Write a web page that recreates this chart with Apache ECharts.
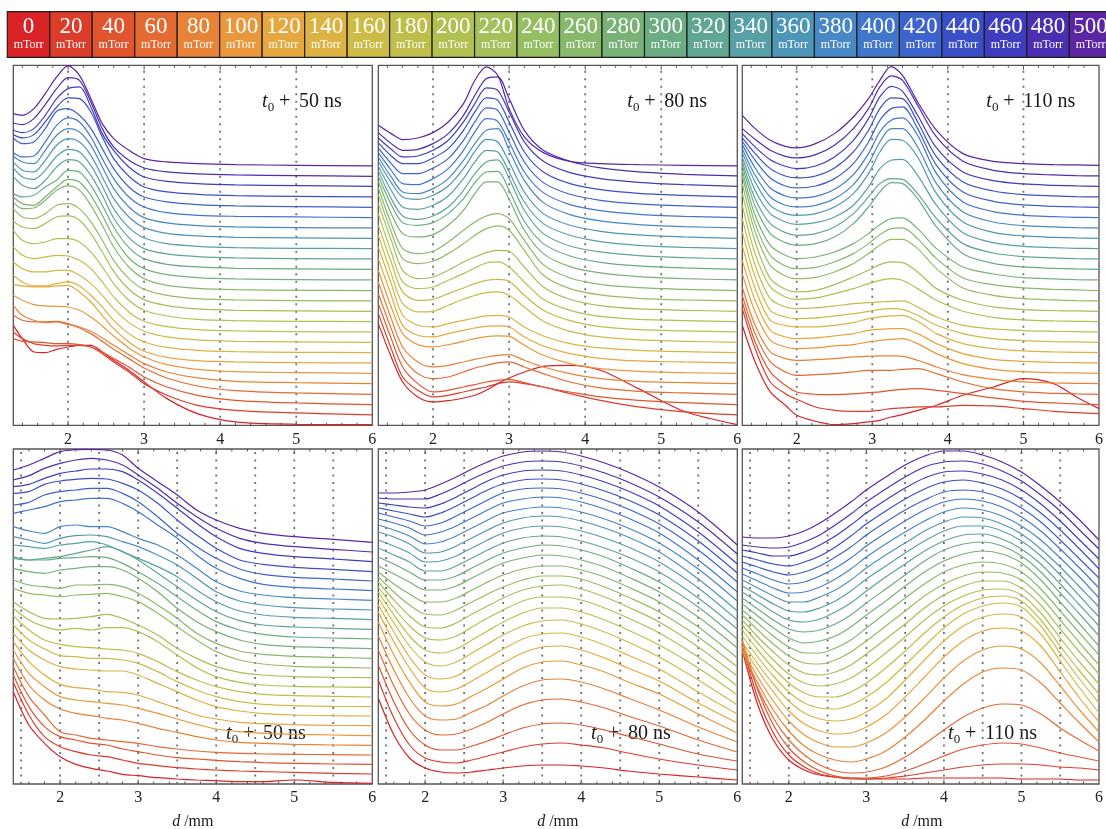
<!DOCTYPE html>
<html>
<head>
<meta charset="utf-8">
<script src="https://cdn.jsdelivr.net/npm/echarts@6/dist/echarts.min.js"></script>
<style>
  html, body { margin: 0; padding: 0; background: #ffffff; }
  #chart { width: 1106px; height: 829px; }
</style>
</head>
<body>
<div id="chart"></div>
<script>
// Background gas pressure of each trace (mTorr) and its colour
const pressures = [0, 20, 40, 60, 80, 100, 120, 140, 160, 180, 200, 220, 240,
                   260, 280, 300, 320, 340, 360, 380, 400, 420, 440, 460, 480, 500];
const pressureColors = [
  '#d92327', '#dc3d2b', '#e0552e', '#e46a31', '#e88236', '#e9973a', '#e6a73e',
  '#dcb342', '#cdbb46', '#bfbe4b', '#b2c052', '#a4c05a', '#95bd62', '#87b86b',
  '#78b276', '#6bac83', '#60a692', '#57a0a5', '#4e96b8', '#4788c5', '#4176cb',
  '#3d63cc', '#3b50c8', '#3e3dc0', '#4a2fb2', '#5c25a3'
];

// Distance from target d (mm) sampled for each panel
const dTop50  = [1.28, 1.4, 1.55, 1.7, 1.85, 2.0, 2.15, 2.3, 2.45, 2.6, 2.8, 3.0, 3.3, 3.7, 4.2, 5.0, 6.0];
const dTop80  = [1.28, 1.45, 1.6, 1.8, 2.0, 2.2, 2.4, 2.55, 2.7, 2.85, 3.0, 3.2, 3.45, 3.8, 4.2, 4.7, 5.3, 6.0];
const dTop110 = [1.28, 1.45, 1.65, 1.85, 2.0, 2.25, 2.5, 2.75, 2.95, 3.1, 3.25, 3.4, 3.6, 3.85, 4.2, 4.6, 5.0, 5.4, 5.7, 6.0];
const dBot50  = [1.4, 1.6, 1.8, 2.0, 2.2, 2.4, 2.6, 2.8, 3.0, 3.25, 3.5, 3.75, 4.0, 4.3, 4.6, 5.0, 5.5, 6.0];
const dBot80  = [1.4, 1.6, 1.8, 2.0, 2.2, 2.4, 2.6, 2.8, 3.0, 3.25, 3.5, 3.75, 4.0, 4.3, 4.6, 5.0, 5.5, 6.0];
const dBot110 = [1.4, 1.6, 1.8, 2.0, 2.2, 2.4, 2.6, 2.8, 3.0, 3.25, 3.5, 3.75, 4.0, 4.25, 4.5, 4.75, 5.0, 5.25, 5.5, 5.75, 6.0];

// Stacked emission profiles (a.u., vertical offset included), one row per pressure, 0 -> 500 mTorr
const topProfiles50 = [
  [300,260,220,218,228,235,240,240,220,195,165,130,80,35,10,3,2],
  [280,260,245,240,238,240,240,235,215,190,160,125,90,60,45,37,31],
  [260,252,250,248,245,245,242,235,220,200,175,145,115,90,75,67,62],
  [330,315,310,310,312,305,292,275,252,228,200,172,142,118,104,97,93],
  [360,330,315,308,310,302,295,282,262,240,212,185,160,142,132,128,125],
  [390,375,362,358,357,355,345,325,298,268,232,205,182,168,161,158,156],
  [422,418,415,415,418,420,400,370,330,290,250,222,204,194,190,188,187],
  [450,430,418,418,425,430,418,390,355,315,275,250,234,225,221,219,218],
  [490,470,460,460,465,465,450,425,390,350,308,282,265,256,252,250,249],
  [535,510,500,505,510,508,495,470,430,385,340,312,296,287,283,281,280],
  [585,555,545,550,560,560,550,520,475,425,375,345,328,318,314,312,311],
  [612,595,590,605,625,628,615,575,520,462,408,377,359,349,345,343,342],
  [650,625,620,635,660,665,650,610,555,495,440,408,390,380,376,374,373],
  [670,650,652,675,705,718,705,660,600,535,475,440,420,411,407,405,404],
  [685,665,660,685,715,738,730,690,630,565,502,470,452,443,439,437,436],
  [695,685,690,715,735,765,760,720,660,595,533,500,483,475,471,469,468],
  [747,720,710,735,775,797,790,750,690,622,563,530,514,506,502,500,499],
  [772,745,738,765,807,828,820,780,718,650,593,562,545,537,533,531,530],
  [790,765,760,795,840,860,850,810,745,680,625,593,576,568,564,562,561],
  [807,790,785,825,870,890,880,840,775,710,655,623,607,599,595,593,592],
  [818,805,808,850,900,922,910,865,800,740,685,655,638,630,627,625,623],
  [862,845,850,890,942,950,930,890,830,770,715,685,670,662,658,656,654],
  [872,862,872,910,955,982,980,940,865,800,747,715,700,693,689,687,685],
  [885,878,890,930,980,1010,1015,955,875,825,775,745,732,725,721,719,717],
  [907,902,920,962,1010,1043,1035,970,890,835,795,772,760,754,751,749,747],
  [935,930,950,995,1045,1078,1050,980,905,860,825,800,790,785,782,780,778]
];

const topProfiles80 = [
  [305,205,130,85,70,74,82,90,105,125,142,160,177,180,165,110,42,2],
  [335,230,145,105,85,90,100,108,115,125,130,125,115,95,75,55,40,31],
  [365,260,175,125,100,105,115,122,130,135,138,128,115,100,85,75,68,62],
  [395,290,205,155,140,145,160,172,180,187,190,175,155,130,112,102,97,93],
  [430,320,235,190,175,180,190,198,205,210,212,195,175,155,140,132,128,125],
  [465,355,275,242,235,242,252,260,266,268,267,240,210,185,170,162,158,156],
  [500,390,300,270,265,275,285,292,297,298,295,265,238,215,201,193,190,187],
  [535,425,330,300,295,305,315,322,328,330,325,295,268,245,232,225,221,218],
  [570,455,365,340,342,360,378,390,398,400,390,355,312,282,265,256,252,249],
  [600,490,400,375,378,395,412,425,435,438,432,390,345,314,296,287,283,280],
  [635,520,430,410,415,435,455,472,487,490,475,430,378,345,327,318,314,311],
  [665,555,465,440,445,465,490,505,518,525,522,475,415,378,359,349,345,342],
  [692,580,500,485,492,515,545,570,590,598,585,525,450,410,391,381,376,373],
  [712,605,530,515,522,550,585,610,628,635,620,555,482,442,423,413,408,404],
  [732,635,575,565,572,600,645,695,730,730,678,585,515,476,457,446,440,436],
  [748,662,608,600,608,635,680,728,760,762,705,612,545,508,489,478,472,468],
  [764,680,628,618,628,655,705,755,790,796,740,645,575,538,520,509,503,499],
  [778,705,655,648,660,688,740,790,825,820,760,670,605,570,551,540,534,530],
  [792,728,685,678,690,718,770,822,858,850,790,700,635,600,582,571,565,561],
  [805,745,700,695,710,740,795,845,885,890,825,735,668,632,613,602,596,592],
  [818,765,725,722,740,770,825,880,920,912,850,760,698,662,644,633,627,623],
  [832,785,755,755,772,800,855,910,952,945,880,790,728,693,675,664,658,654],
  [847,808,785,785,802,830,885,940,982,975,910,820,760,725,707,696,690,685],
  [862,828,805,808,825,855,910,965,1012,1005,940,850,792,758,740,729,722,717],
  [878,845,825,828,845,875,930,990,1040,1045,980,885,825,792,772,760,753,748],
  [900,875,857,862,878,910,965,1035,1075,1050,950,865,818,792,785,782,780,778]
];

const topProfiles110 = [
  [300,190,100,60,30,12,2,5,10,15,25,32,45,60,90,115,140,125,85,50],
  [350,230,130,95,78,55,45,42,42,45,50,52,55,55,60,58,50,42,38,35],
  [370,250,160,120,100,93,92,94,98,100,105,108,110,105,95,82,72,67,64,62],
  [390,275,190,160,150,152,155,160,165,165,165,168,170,155,130,110,100,96,94,93],
  [415,300,220,200,195,197,200,205,207,208,208,207,195,175,152,138,130,127,126,125],
  [455,340,255,235,230,232,238,242,250,255,258,260,245,215,185,168,161,158,157,156],
  [495,375,285,265,260,262,268,275,285,288,290,290,275,245,215,198,192,189,188,187],
  [540,410,315,300,295,295,300,308,320,325,328,330,312,275,245,230,223,220,219,218],
  [580,445,345,325,320,322,328,335,342,348,350,348,330,300,275,260,254,251,250,249],
  [620,480,380,355,350,352,358,365,368,370,372,373,355,325,300,289,284,282,281,280],
  [660,515,415,385,378,382,395,410,425,435,440,435,410,375,342,324,316,313,312,311],
  [695,550,440,408,400,405,422,445,465,482,490,488,460,410,375,355,347,344,343,342],
  [725,580,480,448,440,444,460,485,515,540,558,558,530,470,412,390,380,376,374,373],
  [750,605,510,478,470,474,490,515,545,572,590,592,560,500,442,422,412,408,406,404],
  [765,630,540,510,500,505,520,545,575,602,620,622,590,530,475,454,443,439,437,436],
  [780,658,575,548,540,545,565,605,655,700,728,725,680,595,515,486,475,471,469,468],
  [792,680,605,578,570,575,595,635,685,725,740,738,695,620,545,517,506,502,500,499],
  [805,705,635,610,603,608,625,660,715,770,795,798,750,660,578,548,537,533,531,530],
  [818,730,660,635,630,635,655,695,755,820,858,855,805,695,610,579,568,564,562,561],
  [830,750,685,660,655,660,680,722,785,850,890,890,835,725,640,610,599,595,593,592],
  [842,772,712,688,682,687,708,752,815,880,915,922,870,755,670,641,630,626,624,623],
  [852,795,742,718,712,718,740,785,850,915,950,955,890,780,700,672,661,657,655,654],
  [862,815,770,748,742,748,772,820,885,950,982,980,910,805,730,703,692,688,686,685],
  [875,835,797,777,770,778,805,855,920,985,1017,1002,930,832,760,734,724,720,718,717],
  [890,858,825,807,802,812,840,890,950,1015,1048,1035,960,865,792,765,755,751,749,748],
  [930,890,855,837,832,845,875,925,980,1035,1076,1050,970,885,815,792,785,782,781,780]
];

const bottomProfiles50 = [
  [277,177,122,82,59,47,39,29,25,19,15,12,10,7,7,12,5,2],
  [305,207,142,112,97,87,82,72,62,55,49,45,42,39,37,35,32,30],
  [327,232,172,142,132,122,117,105,97,87,79,75,71,67,64,62,60,59],
  [352,262,207,157,147,137,132,127,122,112,105,99,95,92,90,89,88,87],
  [377,297,252,225,212,205,197,192,182,167,155,142,132,125,122,119,117,116],
  [402,332,292,262,252,247,242,237,227,212,195,179,165,157,152,149,147,145],
  [427,367,327,299,289,285,277,275,267,247,227,207,195,185,181,178,176,175],
  [452,402,372,352,345,342,339,339,327,302,277,252,232,219,211,207,205,204],
  [477,432,405,385,382,377,377,372,362,337,307,282,262,247,239,235,233,232],
  [505,462,432,419,412,409,405,402,392,367,337,312,292,277,269,265,263,261],
  [527,492,472,462,467,462,469,469,457,427,387,349,322,305,297,293,291,290],
  [547,517,497,495,497,502,509,497,477,447,407,377,352,335,327,322,320,319],
  [587,572,567,562,567,569,572,562,547,512,472,432,397,372,360,353,350,348],
  [612,597,592,587,597,597,599,592,572,537,497,452,422,399,389,383,380,377],
  [647,637,632,642,647,652,652,642,617,577,527,487,457,432,419,412,409,406],
  [677,672,672,677,679,682,679,662,637,602,562,522,487,462,449,441,438,435],
  [682,672,677,682,692,702,712,697,672,632,592,552,517,490,477,471,467,464],
  [717,712,707,717,722,727,717,697,677,652,622,582,547,519,507,500,497,493],
  [742,732,722,737,745,747,742,727,712,687,657,617,577,549,537,529,525,522],
  [772,759,752,772,777,772,772,757,737,717,687,647,607,579,567,559,555,551],
  [812,822,832,847,852,857,857,842,817,777,737,687,647,617,599,590,585,580],
  [837,845,867,877,882,887,887,872,847,802,752,712,677,645,629,620,615,609],
  [872,877,899,909,914,917,915,902,882,842,792,747,707,672,659,650,644,637],
  [892,899,917,932,939,945,945,937,912,872,827,782,742,707,692,682,675,667],
  [912,925,947,962,972,977,972,957,927,887,842,802,767,737,722,712,704,696],
  [942,957,977,997,1003,1004,1002,987,947,907,867,822,792,767,752,742,734,725]
];

const bottomProfiles80 = [
  [86,49,26,16,12,11,12,14,16,18,19,19,18,16,13,10,7,4],
  [104,66,39,26,22,21,24,28,32,37,40,41,39,36,31,25,19,14],
  [119,82,54,39,34,34,38,43,49,56,60,61,59,54,48,40,30,23],
  [134,98,70,54,49,50,55,62,70,79,84,85,82,76,68,58,44,32],
  [148,114,86,68,64,65,72,79,88,98,104,105,102,95,86,74,57,42],
  [162,129,102,82,78,80,88,96,105,116,122,123,119,112,102,90,70,51],
  [172,142,116,96,92,95,103,112,121,131,137,138,134,126,116,103,81,61],
  [179,152,127,109,105,108,117,126,135,145,150,151,147,139,129,115,92,70],
  [186,161,138,122,118,122,131,140,149,158,163,164,160,152,142,127,104,79],
  [192,169,148,134,131,135,144,153,162,171,176,176,172,164,154,139,116,89],
  [197,176,158,146,144,148,157,166,174,183,187,187,184,176,166,151,127,98],
  [202,184,168,157,156,161,170,178,186,194,198,199,195,187,177,162,137,108],
  [207,192,179,170,169,174,182,190,197,204,208,208,205,197,187,172,147,117],
  [212,200,190,182,182,186,194,202,209,215,218,218,214,207,197,182,157,126],
  [218,210,202,194,194,198,206,214,221,226,229,228,224,217,207,192,167,136],
  [227,220,212,204,204,208,216,224,231,236,239,238,234,227,217,202,177,145],
  [236,229,222,213,213,218,226,234,241,246,248,247,243,236,227,212,186,155],
  [244,238,231,222,223,228,236,244,251,256,258,257,253,246,237,222,196,164],
  [252,247,240,231,232,238,246,254,261,266,268,267,263,256,247,232,205,173],
  [259,254,248,240,242,248,256,264,271,275,277,276,272,265,256,241,215,183],
  [265,261,256,249,252,258,266,274,281,285,287,286,282,275,266,251,224,192],
  [271,267,263,258,261,268,276,284,291,295,296,295,291,284,275,260,234,202],
  [276,273,270,267,271,278,286,294,300,304,305,304,300,293,284,269,243,211],
  [281,279,277,276,280,287,295,303,309,313,314,313,309,302,293,278,252,220],
  [286,285,285,285,290,297,305,312,318,322,323,322,318,311,302,287,262,230],
  [291,291,292,294,300,307,315,322,328,332,333,332,328,321,312,297,272,239]
];

const bottomProfiles110 = [
  [134,79,44,24,14,9,7,6,5,5,5,6,6,6,6,6,5,5,5,4,4],
  [139,86,51,29,17,10,7,5,5,6,8,11,14,17,19,20,20,19,17,16,14],
  [144,94,59,36,22,13,8,6,6,8,13,20,28,35,39,41,40,36,31,27,23],
  [136,96,66,44,29,19,13,11,12,17,27,40,54,67,76,80,79,70,56,44,33],
  [132,101,74,53,38,29,24,22,25,33,47,64,83,100,112,116,114,101,81,61,42],
  [134,107,83,63,49,41,37,37,41,51,67,86,106,123,134,138,135,121,98,74,52],
  [138,114,92,73,60,53,50,51,57,69,87,107,127,143,153,156,153,138,112,86,62],
  [142,120,100,83,71,65,63,65,72,85,104,124,143,158,167,170,167,150,123,96,71],
  [148,127,108,92,81,76,75,79,87,101,119,138,156,170,178,181,177,158,131,105,81],
  [154,134,116,101,91,87,87,92,101,116,133,151,167,179,186,188,183,164,138,113,90],
  [159,141,124,110,101,98,100,106,116,131,147,164,178,188,194,195,189,171,146,122,100],
  [164,147,132,119,111,109,112,119,130,145,160,176,189,198,203,203,196,179,155,132,110],
  [169,154,140,128,121,120,124,132,143,158,173,188,200,208,212,211,204,187,164,141,119],
  [174,161,148,137,131,131,136,144,156,171,186,200,212,219,222,220,212,195,173,151,129],
  [180,168,156,146,141,143,148,157,169,183,198,212,223,230,233,230,221,204,182,160,138],
  [186,175,164,155,152,154,160,169,181,195,209,223,234,240,242,238,228,212,191,170,148],
  [192,182,172,164,162,165,172,181,193,207,220,233,243,249,250,245,235,220,200,179,158],
  [198,189,180,173,172,176,183,193,205,218,231,243,253,258,258,253,243,228,209,188,167],
  [204,196,188,182,182,187,194,204,216,229,241,253,262,267,266,260,250,235,217,197,177],
  [210,203,196,191,192,197,205,215,227,240,252,263,272,276,274,268,258,244,226,207,186],
  [216,210,204,200,202,208,216,226,238,251,263,274,282,285,283,277,267,253,235,216,196],
  [222,217,212,209,212,218,227,237,249,262,274,284,292,294,292,286,276,262,244,225,206],
  [228,224,220,218,222,228,237,248,260,273,285,295,302,304,301,295,285,271,254,235,215],
  [234,231,228,228,232,239,248,259,271,284,296,306,312,313,310,304,294,280,263,244,225],
  [239,237,236,237,242,249,259,270,282,295,307,317,322,323,320,313,303,289,273,254,235],
  [247,246,246,248,253,261,271,282,294,307,319,328,333,333,329,322,312,298,282,264,244]
];

// Tick labels and dotted reference positions (mm)
const tickLabels = [2, 3, 4, 5, 6];
const topGuides = [2, 3, 4, 5];
const bottomGuides = [1.5, 2, 2.5, 3, 3.5, 4, 4.5, 5, 5.5];
const delayLabels = ['50', '80', '110'];

const SERIF = '"Liberation Serif", "Times New Roman", serif';

// Panel layout (pixels) and y ranges in profile units
const panels = [
  { left: 13.3,  top: 65.3, height: 360, xMin: 1.28, yMax: 1080, d: dTop50,  rows: topProfiles50,  guides: topGuides,    delay: 0, tx: 262,   tBase: 108 },
  { left: 378.3, top: 65.3, height: 360, xMin: 1.28, yMax: 1080, d: dTop80,  rows: topProfiles80,  guides: topGuides,    delay: 1, tx: 627.3, tBase: 108 },
  { left: 742.3, top: 65.3, height: 360, xMin: 1.28, yMax: 1080, d: dTop110, rows: topProfiles110, guides: topGuides,    delay: 2, tx: 986.3, tBase: 108 },
  { left: 13.3,  top: 449,  height: 335, xMin: 1.4,  yMax: 1005, d: dBot50,  rows: bottomProfiles50,  guides: bottomGuides, delay: 0, tx: 226, tBase: 740, axisTitle: true },
  { left: 378.3, top: 449,  height: 335, xMin: 1.4,  yMax: 335,  d: dBot80,  rows: bottomProfiles80,  guides: bottomGuides, delay: 1, tx: 591, tBase: 740, axisTitle: true },
  { left: 742.3, top: 449,  height: 335, xMin: 1.4,  yMax: 335,  d: dBot110, rows: bottomProfiles110, guides: bottomGuides, delay: 2, tx: 948, tBase: 740, axisTitle: true }
];
const PANEL_WIDTH = 359;

// Frame ticks: major at whole millimetres, minor every 0.2 mm
function frameTicks(xMin) {
  const out = [];
  for (let k = 7; k <= 30; k++) {
    const d = k / 5;
    if (d <= xMin + 1e-6 || d >= 6 - 1e-6) continue;
    out.push([d, k % 5 === 0 ? 4.5 : 2.5]);
  }
  return out;
}

function decorRenderer(yMax) {
  return function (params, api) {
    const x = api.value(0);
    const len = api.value(1);
    const b = api.coord([x, 0]);
    const t = api.coord([x, yMax]);
    if (len === 0) {
      return {
        type: 'line',
        shape: { x1: b[0], y1: b[1], x2: b[0], y2: t[1] },
        style: { stroke: '#707070', lineWidth: 1.8, lineDash: [2, 5.5] }
      };
    }
    return {
      type: 'group',
      children: [
        { type: 'line', shape: { x1: b[0], y1: b[1], x2: b[0], y2: b[1] - len }, style: { stroke: '#555', lineWidth: 1 } },
        { type: 'line', shape: { x1: t[0], y1: t[1], x2: t[0], y2: t[1] + len }, style: { stroke: '#555', lineWidth: 1 } }
      ]
    };
  };
}

const grids = [], xAxes = [], yAxes = [], series = [], graphics = [];

panels.forEach((p, pi) => {
  grids.push({
    left: p.left, top: p.top, width: PANEL_WIDTH, height: p.height,
    show: true, borderColor: '#555', borderWidth: 1.3, backgroundColor: 'transparent'
  });
  xAxes.push({
    gridIndex: pi, type: 'value', min: p.xMin, max: 6,
    axisLine: { show: false }, axisTick: { show: false }, splitLine: { show: false },
    axisLabel: { customValues: tickLabels, fontFamily: SERIF, fontSize: 16, color: '#222', margin: 6 }
  });
  yAxes.push({ gridIndex: pi, type: 'value', min: 0, max: p.yMax, show: false });

  // dotted guides and frame ticks
  series.push({
    type: 'custom', xAxisIndex: pi, yAxisIndex: pi, silent: true, clip: false, z: 1,
    renderItem: decorRenderer(p.yMax),
    data: p.guides.map(g => [g, 0]).concat(frameTicks(p.xMin))
  });

  // one trace per pressure
  p.rows.forEach((vals, i) => {
    series.push({
      type: 'line', xAxisIndex: pi, yAxisIndex: pi, name: pressures[i] + ' mTorr',
      data: p.d.map((d, k) => [d, vals[k]]),
      showSymbol: false, smooth: 0.3, silent: true, z: 2,
      lineStyle: { color: pressureColors[i], width: 1.2 }
    });
  });

  // delay annotation: t0 + N ns
  const mid = p.tBase - 6.1;
  graphics.push(
    { type: 'text', x: p.tx, y: mid, style: { text: 't', fill: '#1a1a1a', fontFamily: SERIF, fontSize: 20, fontStyle: 'italic', align: 'left', verticalAlign: 'middle' } },
    { type: 'text', x: p.tx + 5.7, y: p.tBase - 0.3, style: { text: '0', fill: '#1a1a1a', fontFamily: SERIF, fontSize: 13, align: 'left', verticalAlign: 'middle' } },
    { type: 'text', x: p.tx + 17, y: mid, style: { text: '+', fill: '#1a1a1a', fontFamily: SERIF, fontSize: 20, align: 'left', verticalAlign: 'middle' } },
    { type: 'text', x: p.tx + 37, y: mid, style: { text: delayLabels[p.delay] + ' ns', fill: '#1a1a1a', fontFamily: SERIF, fontSize: 20, align: 'left', verticalAlign: 'middle' } }
  );

  if (p.axisTitle) {
    graphics.push({
      type: 'text', x: p.left + PANEL_WIDTH / 2, y: 821.8,
      style: {
        text: '{i|d} /mm', fill: '#1a1a1a', fontFamily: SERIF, fontSize: 16, align: 'center', verticalAlign: 'middle',
        rich: { i: { fontStyle: 'italic', fontFamily: SERIF, fontSize: 16, fill: '#1a1a1a' } }
      }
    });
  }
});

// Pressure colour key across the top
const KEY_X = 7.3, KEY_Y = 11.7, KEY_W = 42.48, KEY_H = 45.6;
pressures.forEach((pr, i) => {
  const x = KEY_X + i * KEY_W;
  graphics.push(
    { type: 'rect', shape: { x: x, y: KEY_Y, width: KEY_W, height: KEY_H }, style: { fill: pressureColors[i], stroke: '#1e1e1e', lineWidth: 1.2 } },
    { type: 'text', x: x + KEY_W / 2, y: 27.3, style: { text: String(pr), fill: '#ffffff', fontFamily: SERIF, fontSize: 23, align: 'center', verticalAlign: 'middle' } },
    { type: 'text', x: x + KEY_W / 2, y: 45.3, style: { text: 'mTorr', fill: '#ffffff', fontFamily: SERIF, fontSize: 12, align: 'center', verticalAlign: 'middle' } }
  );
});

const chart = echarts.init(document.getElementById('chart'), null, { renderer: 'canvas' });
chart.setOption({
  animation: false,
  backgroundColor: '#ffffff',
  textStyle: { fontFamily: SERIF },
  grid: grids,
  xAxis: xAxes,
  yAxis: yAxes,
  series: series,
  graphic: graphics
});
</script>
</body>
</html>
